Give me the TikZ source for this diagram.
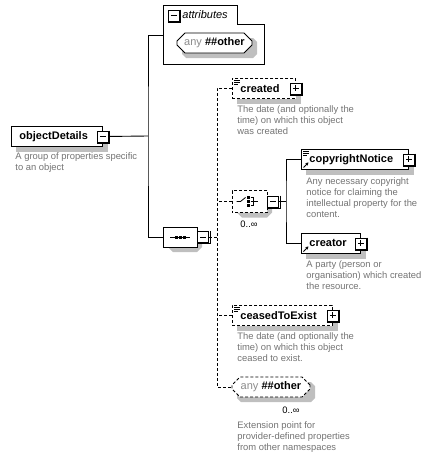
\documentclass[tikz,border=0pt]{standalone}
\usepackage{fontspec}
\setmainfont{Liberation Sans}
\usetikzlibrary{shapes.misc,arrows.meta,backgrounds}
\tikzset{
    dash-line/.style = {dash pattern=on 3pt off 2pt},
    gray-shadow/.style = {fill=black!25, draw=none},
    shadow-band/.style = {draw=black!25, line width=5pt, solid, line join=miter},
    elem-box/.style = {draw, fill=white, rectangle, anchor=north west, minimum height=20pt, inner xsep=8pt, inner ysep=0pt, align=left, font=\fontsize{11}{13}\selectfont\bfseries},
    lines-mark/.style = {path picture={\draw[solid, line width=0.6pt] ([shift={(2pt,-1.5pt)}]path picture bounding box.north west) -- ++(6pt,0pt) ([shift={(2pt,-3.5pt)}]path picture bounding box.north west) -- ++(6pt,0pt) ([shift={(2pt,-5.5pt)}]path picture bounding box.north west) -- ++(4pt,0pt);}},
    ref-mark/.style = {path picture={\draw[solid, line width=0.9pt, -{Stealth[length=3pt,width=3.5pt]}] ([shift={(2pt,2pt)}]path picture bounding box.south west) -- ++(5pt,5pt);}},
    both-mark/.style = {path picture={\draw[solid, line width=0.6pt] ([shift={(2pt,-1.5pt)}]path picture bounding box.north west) -- ++(6pt,0pt) ([shift={(2pt,-3.5pt)}]path picture bounding box.north west) -- ++(6pt,0pt) ([shift={(2pt,-5.5pt)}]path picture bounding box.north west) -- ++(4pt,0pt); \draw[solid, line width=0.9pt, -{Stealth[length=3pt,width=3.5pt]}] ([shift={(2pt,2pt)}]path picture bounding box.south west) -- ++(5pt,5pt);}},
    tg-minus/.style = {draw, solid, fill=white, rectangle, minimum size=11pt, inner sep=0pt, line width=0.8pt, path picture={\draw[line width=0.9pt] ([xshift=2.5pt]path picture bounding box.west) -- ([xshift=-2.5pt]path picture bounding box.east);}},
    tg-plus/.style = {tg-minus, path picture={\draw[line width=0.9pt] ([xshift=2.5pt]path picture bounding box.west) -- ([xshift=-2.5pt]path picture bounding box.east) ([yshift=-2.5pt]path picture bounding box.north) -- ([yshift=2.5pt]path picture bounding box.south);}},
    comp-box/.style = {chamfered rectangle, chamfered rectangle xsep=5pt, chamfered rectangle ysep=5pt, draw, fill=white, inner sep=0pt},
    any-box/.style = {comp-box, chamfered rectangle xsep=4pt, chamfered rectangle ysep=4pt, minimum height=20pt, font=\fontsize{11}{13}\selectfont},
    desc/.style = {anchor=north west, inner sep=0pt, align=left, text=black!55, font=\fontsize{9.4}{11}\selectfont},
    occ/.style = {inner sep=0pt, font=\fontsize{9.4}{11}\selectfont},
}
\begin{document}
\begin{tikzpicture}[x=1pt, y=-1pt, line width=0.9pt]
\useasboundingbox (0,0) rectangle (431,458);

\node[elem-box, text width=75pt] (od) at (11,126) {objectDetails};
\node[desc] (od-desc) at (15,152.5) {A group of properties specific\\to an object};

\draw (163,5) -- (237,5) -- (237,24) -- (264,24) -- (264,64) -- (163,64) -- cycle;
\coordinate (attr-in) at (163,35);
\node[anchor=west, inner sep=0pt, font=\fontsize{11}{13}\selectfont\itshape] (attr-title) at (182,15) {attributes};
\node[any-box, minimum width=75pt] (attr-any) at (214.5,43) {{\color{black!45}any} \textbf{\#\#other}};

\node[comp-box, minimum width=34pt, minimum height=20pt] (seq) at (180,237) {};
\begin{scope}[shift={(seq.center)}]
\draw[line width=0.8pt] (-10,0) -- (10,0);
\foreach \dx in {-4,0,4} \fill (\dx-1.5,-1.5) rectangle ++(3,3);
\end{scope}

\node[elem-box, dash-line, lines-mark, text width=47pt] (created) at (232,78) {created};
\node[desc] (created-desc) at (237,105.5) {The date (and optionally the\\time) on which this object\\was created};

\node[comp-box, dash-line, minimum width=35pt, minimum height=22pt] (choice) at (249.5,201.5) {};
\node[occ] (choice-occ) at (249,224) {0..∞};
\begin{scope}[shift={(choice.center)}, line width=0.8pt]
\draw (-13,0) -- (-9,0) -- (-4,-4);
\foreach \dy in {-4,0,4} \fill (-2.5,\dy-1.2) rectangle ++(2.5,2.5);
\draw (1,-4) -- (4,-4) -- (4,4) -- (1,4) (1,0) -- (8,0);
\end{scope}

\node[elem-box, both-mark, text width=91pt] (copy) at (301,149) {copyrightNotice};
\node[desc] (copy-desc) at (306,177.5) {Any necessary copyright\\notice for claiming the\\intellectual property for the\\content.};

\node[elem-box, ref-mark, text width=43pt] (creator) at (301,233) {creator};
\node[desc] (creator-desc) at (306,260.5) {A party (person or\\organisation) which created\\the resource.};

\node[elem-box, dash-line, lines-mark, text width=84pt] (ceased) at (232,305) {ceasedToExist};
\node[desc] (ceased-desc) at (237,332.5) {The date (and optionally the\\time) on which this object\\ceased to exist.};

\node[any-box, dash-line, minimum width=78pt] (anyo) at (271,387) {{\color{black!45}any} \textbf{\#\#other}};
\node[occ] (anyo-occ) at (291,410) {0..∞};
\node[desc] (anyo-desc) at (237,421.5) {Extension point for\\provider-defined properties\\from other namespaces};

\foreach \n in {od,created,copy,creator,ceased}
  \draw[shadow-band] ([xshift=3pt, yshift=-5pt]\n.north east) -- ([xshift=3pt, yshift=-3pt]\n.south east) -- ([xshift=5pt, yshift=-3pt]\n.south west);
\begin{scope}[on background layer]
\foreach \n/\w/\h/\c in {seq/17/10/5, choice/17.5/11/5, attr-any/37.5/10/4, anyo/39/10/4}
  \fill[gray-shadow, shift={(\n.center)}, shift={(5,5)}] (-\w,-\h+\c) -- (-\w+\c,-\h) -- (\w-\c,-\h) -- (\w,-\h+\c) -- (\w,\h-\c) -- (\w-\c,\h) -- (-\w+\c,\h) -- (-\w,\h-\c) -- cycle;
\end{scope}

\node[tg-minus] (od-tg) at (od.east) {};
\node[tg-minus] (attr-tg) at (173.5,15.5) {};
\node[tg-minus, anchor=west] (seq-tg) at (seq.east) {};
\node[tg-plus] (created-tg) at (created.east) {};
\node[tg-minus, anchor=west] (choice-tg) at (choice.east) {};
\node[tg-plus] (copy-tg) at (copy.east) {};
\node[tg-plus] (creator-tg) at (creator.east) {};
\node[tg-plus] (ceased-tg) at (ceased.east) {};
\foreach \n in {od-tg,attr-tg,seq-tg,created-tg,choice-tg,copy-tg,creator-tg,ceased-tg}
  \draw[line width=1pt] ([xshift=1pt]\n.north east) |- ([yshift=-1pt]\n.south west);

\coordinate (j1) at (148,136);
\draw (od-tg.east) -- (j1);
\draw (attr-in) -| (j1) |- (seq.west);

\coordinate (j2) at (217,237);
\draw[dash-line] (seq-tg.east) -- (j2);
\draw[dash-line] (created.west) -| (j2) |- (anyo.west);
\draw[dash-line] (choice.west) -- (choice.west -| j2);
\draw[dash-line] (ceased.west) -- (ceased.west -| j2);

\coordinate (j3) at (286,201.5);
\draw (choice-tg.east) -- (j3);
\draw (copy.west) -| (j3) |- (creator.west);
\end{tikzpicture}
\end{document}
